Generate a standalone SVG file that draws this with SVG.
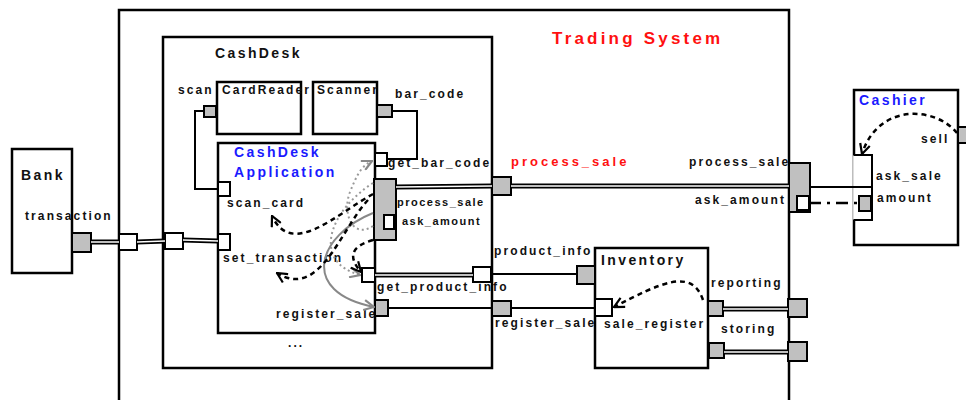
<svg xmlns="http://www.w3.org/2000/svg" width="966" height="400" viewBox="0 0 966 400">
<style>
.box{fill:#fff;stroke:#000;stroke-width:2.5}
.pg{fill:#c0c0c0;stroke:#000;stroke-width:2}
.pw{fill:#fff;stroke:#000;stroke-width:2}
text{font-family:"Liberation Sans",Arial,sans-serif;font-weight:bold;fill:#111}
.ttl{font-size:14px;letter-spacing:2.4px}
.lbl{font-size:12px;letter-spacing:2.1px}
.sm{font-size:11px;letter-spacing:1.5px}
.blue{fill:#1a1aff}
.red{fill:#ff1010}
.w{fill:none;stroke:#000;stroke-width:2}
.dbl{fill:none;stroke:#000;stroke-width:5}
.dblin{fill:none;stroke:#fff;stroke-width:1.4}
.dash{fill:none;stroke:#000;stroke-width:2.5;stroke-dasharray:5 4}
.dot{fill:none;stroke:#999;stroke-width:2;stroke-dasharray:2 3}
.gsol{fill:none;stroke:#888;stroke-width:2}
</style>
<defs>
<marker id="ab" viewBox="0 0 12 12" refX="11" refY="6" markerWidth="12" markerHeight="12" markerUnits="userSpaceOnUse" orient="auto"><path d="M1,1 L11,6 L1,11" fill="none" stroke="#000" stroke-width="2.2"/></marker>
<marker id="ag" viewBox="0 0 12 12" refX="11" refY="6" markerWidth="12" markerHeight="12" markerUnits="userSpaceOnUse" orient="auto"><path d="M1,1 L11,6 L1,11" fill="none" stroke="#888" stroke-width="2.2"/></marker>
</defs>
<rect width="966" height="400" fill="#fff"/>

<g id="trading-system">
<rect class="box" x="119" y="10" width="670" height="400" fill="none"/>
<text class="red" x="552" y="44" style="font-size:17px;letter-spacing:3.2px">Trading System</text>
<text class="red" x="511" y="166" style="font-size:13px;letter-spacing:3px">process_sale</text>
<text class="lbl" x="689" y="166">process_sale</text>
<text class="lbl" x="695" y="204">ask_amount</text>
<rect class="pw" x="119" y="234" width="18" height="16"/>
<rect class="pg" x="789" y="163" width="21" height="49"/>
<rect class="pw" x="797" y="196" width="12" height="14"/>
<rect class="pg" x="788" y="299" width="19" height="18"/>
<rect class="pg" x="788" y="342" width="19" height="19"/>
</g>

<g id="bank">
<rect class="box" x="12" y="149" width="60" height="124"/>
<text class="ttl" x="21" y="180">Bank</text>
<text class="lbl" x="25" y="220">transaction</text>
<rect class="pg" x="72" y="233" width="19" height="19"/>
</g>

<g id="cashdesk">
<rect class="box" x="163" y="37" width="329" height="331"/>
<text class="ttl" x="215" y="58">CashDesk</text>
<text class="lbl" x="288" y="347">...</text>
<text class="lbl" x="494" y="255">product_info</text>
<text class="lbl" x="495" y="327">register_sale</text>
<rect class="pw" x="165" y="233" width="18" height="16"/>
<rect class="pg" x="492" y="177" width="19" height="18"/>
<rect class="pw" x="473" y="267" width="18" height="15"/>
<rect class="pg" x="492" y="301" width="19" height="15"/>
</g>

<g id="cardreader">
<rect class="box" x="217" y="82" width="84" height="52"/>
<text class="lbl" x="222" y="94">CardReader</text>
<text class="lbl" x="178" y="94">scan</text>
<rect class="pg" x="204" y="106" width="12" height="11"/>
</g>

<g id="scanner">
<rect class="box" x="313" y="82" width="64" height="52"/>
<text class="lbl" x="317" y="94">Scanner</text>
<text class="lbl" x="395" y="98">bar_code</text>
<rect class="pg" x="377" y="105" width="15" height="12"/>
</g>

<g id="cashdesk-application">
<rect class="box" x="218" y="143" width="157" height="190"/>
<text class="ttl blue" x="234" y="157">CashDesk</text>
<text class="ttl blue" x="234" y="177">Application</text>
<text class="lbl" x="388" y="167">get_bar_code</text>
<text class="lbl" x="227" y="207">scan_card</text>
<text class="lbl" x="223" y="262">set_transaction</text>
<text class="sm" x="397" y="206">process_sale</text>
<text class="sm" x="402" y="225">ask_amount</text>
<text class="lbl" x="377" y="291">get_product_info</text>
<text class="lbl" x="276" y="318">register_sale</text>
<rect class="pw" x="375" y="153" width="12" height="13"/>
<rect class="pw" x="218" y="182" width="12" height="14"/>
<rect class="pw" x="218" y="234" width="12" height="16"/>
<rect class="pg" x="374" y="179" width="22" height="61"/>
<rect class="pw" x="384" y="215" width="10" height="14"/>
<rect class="pw" x="362" y="268" width="13" height="14"/>
<rect class="pg" x="375" y="300" width="13" height="16"/>
</g>

<g id="inventory">
<rect class="box" x="595" y="248" width="113" height="120"/>
<text class="ttl" x="601" y="265">Inventory</text>
<text class="lbl" x="604" y="328">sale_register</text>
<text class="lbl" x="711" y="287">reporting</text>
<text class="lbl" x="721" y="333">storing</text>
<rect class="pg" x="577" y="266" width="18" height="18"/>
<rect class="pw" x="595" y="299" width="17" height="17"/>
<rect class="pg" x="708" y="301" width="15" height="15"/>
<rect class="pg" x="709" y="343" width="15" height="15"/>
</g>

<g id="cashier">
<rect class="box" x="854" y="90" width="104" height="155"/>
<text class="ttl blue" x="859" y="105">Cashier</text>
<text class="lbl" x="921" y="143">sell</text>
<text class="lbl" x="876" y="180">ask_sale</text>
<text class="lbl" x="877" y="202">amount</text>
<rect class="pg" x="958" y="127" width="12" height="16"/>
<rect x="853" y="155" width="19" height="65" fill="#fff" stroke="none"/>
<path d="M853,155 H872 V220 H853" fill="none" stroke="#000" stroke-width="2"/>
<line x1="853" y1="155" x2="853" y2="220" stroke="#bbb" stroke-width="1"/>
<rect class="pg" x="859" y="196" width="12" height="15"/>
</g>

<g id="connectors">
<path class="dbl" d="M91,242 L119,242 M137,242 L165,241 M183,240 L218,241 M396,187 L492,186 M511,186 L789,186 M375,275 L473,275 M723,309 L788,309 M724,352 L788,352"/>
<path class="dblin" d="M91,242 L119,242 M137,242 L165,241 M183,240 L218,241 M396,187 L492,186 M511,186 L789,186 M375,275 L473,275 M723,309 L788,309 M724,352 L788,352"/>
<path class="w" d="M204,111 H195 V189 H218"/>
<path class="w" d="M392,111 H417 V159 H387"/>
<path class="w" d="M491,274 H577"/>
<path class="w" d="M388,308 H492 M511,308 H595"/>
<path class="w" d="M810,187 H872" stroke-width="2.5"/>
<path d="M809,203 H859" fill="none" stroke="#000" stroke-width="2.5" stroke-dasharray="12 6 3 6"/>
<path class="dot" d="M373,226 C352,240 342,212 350,192 S362,166 372,161" marker-end="url(#ag)"/>
<path class="dot" d="M373,183 C328,212 312,262 360,275" marker-end="url(#ag)"/>
<path class="gsol" d="M373,213 C318,235 298,292 374,307" marker-end="url(#ag)"/>
<path class="dash" d="M373,194 C335,215 292,258 272,216" marker-end="url(#ab)"/>
<path class="dash" d="M368,200 C340,230 320,300 277,273" marker-end="url(#ab)"/>
<path class="dash" d="M373,240 C352,246 347,256 361,272" marker-end="url(#ab)"/>
<path class="dash" d="M957,133 C935,106 878,103 862,154" marker-end="url(#ab)"/>
<path class="dash" d="M703,300 C692,268 662,282 614,307" marker-end="url(#ab)"/>
</g>
</svg>
